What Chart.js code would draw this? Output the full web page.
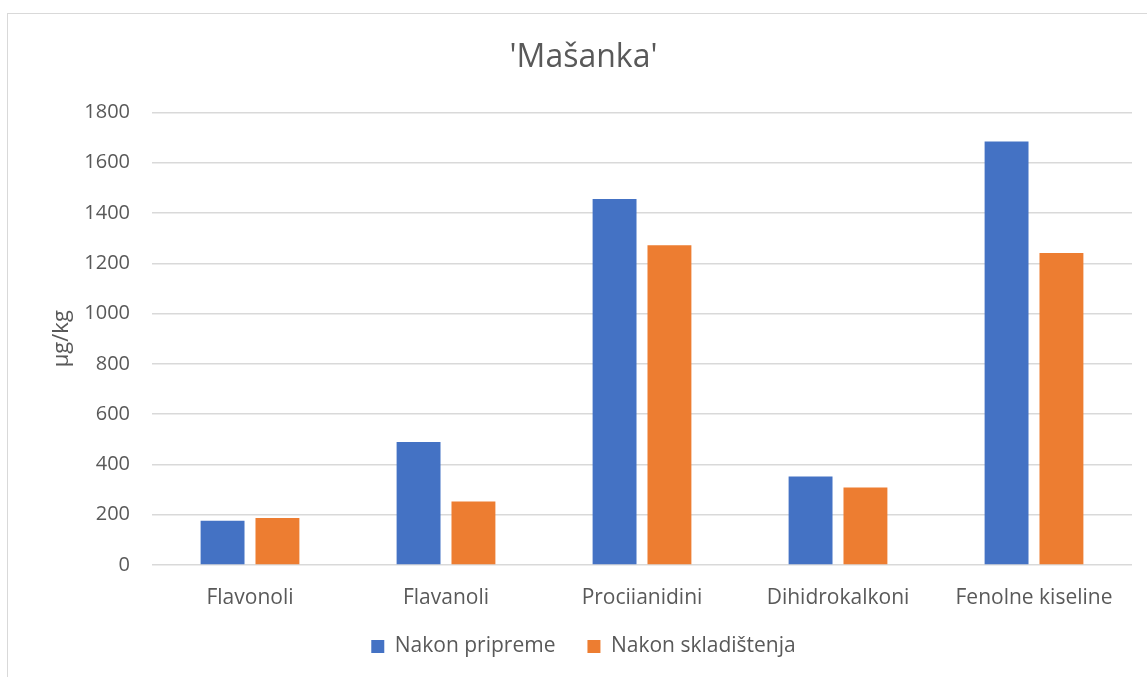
<!DOCTYPE html>
<html>
<head>
<meta charset="utf-8">
<script src="https://cdn.jsdelivr.net/npm/chart.js@4.4.1/dist/chart.umd.min.js"></script>
<style>
  html, body { margin: 0; padding: 0; background: #fff; overflow: hidden; }
  #wrap { position: relative; width: 1147px; height: 677px; }
  #frame { position: absolute; left: 7px; top: 13px; width: 1160px; height: 700px; border: 1px solid #d9d9d9; box-sizing: border-box; }
  canvas { position: absolute; left: 0; top: 0; }
</style>
</head>
<body>
<div id="wrap">
  <div id="frame"></div>
  <canvas id="chart" width="1147" height="677"></canvas>
</div>
<script>
// podaci očitani s grafa
const kategorije = ['Flavonoli', 'Flavanoli', 'Procijanidini', 'Dihidrokalkoni', 'Fenolne kiseline'];
const nakonPripreme = [176, 489, 1456, 352, 1684];
const nakonSkladistenja = [187, 253, 1272, 308, 1241];
const nazivSerija = ['Nakon pripreme', 'Nakon skladištenja'];

const fontFamily = '"Open Sans", sans-serif';
const sivaTekst = '#595959';

const ctx = document.getElementById('chart').getContext('2d');
window.masankaChart = new Chart(ctx, {
    type: 'bar',
    data: {
        labels: kategorije,
        datasets: [{
            label: nazivSerija[0],
            data: nakonPripreme,
            backgroundColor: '#4472c4',
            categoryPercentage: 0.56,
            barPercentage: 0.8
        }, {
            label: nazivSerija[1],
            data: nakonSkladistenja,
            backgroundColor: '#ed7d31',
            categoryPercentage: 0.56,
            barPercentage: 0.8
        }]
    },
    options: {
        responsive: false,
        animation: false,
        layout: {
            padding: { left: 35, right: 15, top: 22, bottom: 10 }
        },
        plugins: {
            title: {
                display: true,
                text: "'Mašanka'",
                color: sivaTekst,
                font: { family: fontFamily, size: 32, weight: 'normal' },
                padding: { top: 17, bottom: 35 }
            },
            legend: {
                display: true,
                position: 'bottom',
                labels: {
                    color: sivaTekst,
                    font: { family: fontFamily, size: 21 },
                    boxWidth: 13,
                    boxHeight: 13,
                    padding: 32
                }
            },
            tooltip: { enabled: false }
        },
        scales: {
            x: {
                grid: { display: false, drawTicks: false },
                border: { display: false },
                ticks: {
                    color: sivaTekst,
                    font: { family: fontFamily, size: 21 },
                    padding: 20
                },
                // skrati os da legenda bude bliže oznakama
                afterFit: (scale) => { scale.height = 39; }
            },
            y: {
                min: 0,
                max: 1800,
                ticks: {
                    stepSize: 200,
                    color: sivaTekst,
                    font: { family: fontFamily, size: 20 },
                    padding: 22,
                    callback: (v) => String(v)
                },
                grid: { color: '#d9d9d9', lineWidth: 1.5, drawTicks: false },
                border: { display: false },
                title: {
                    display: true,
                    text: 'µg/kg',
                    color: sivaTekst,
                    font: { family: fontFamily, size: 22 },
                    padding: { top: 14, bottom: 0 }
                },
                afterFit: (scale) => { scale.width = 117; }
            }
        }
    }
});
</script>
</body>
</html>
